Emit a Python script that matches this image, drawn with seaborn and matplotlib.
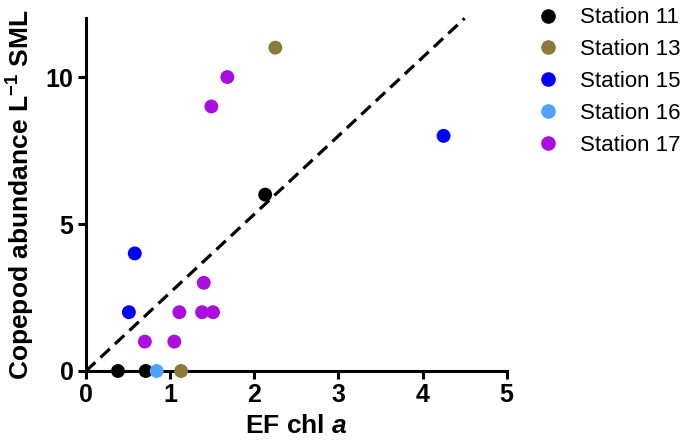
import numpy as np
import pandas as pd
import matplotlib
matplotlib.use("Agg")
import matplotlib.pyplot as plt
import seaborn as sns

# Data
st11_x = [0.38, 0.71, 2.13]
st11_y = [0, 0, 6]
st13_x = [2.25, 1.13]
st13_y = [11, 0]
st15_x = [0.58, 0.51, 4.25]
st15_y = [4, 2, 8]
st16_x = [0.84]
st16_y = [0]
st17_x = [1.68, 1.49, 1.40, 1.38, 1.51, 1.11, 0.70, 1.05]
st17_y = [10, 9, 3, 2, 2, 2, 1, 1]

stations = ["Station 11", "Station 13", "Station 15", "Station 16", "Station 17"]
colors = ["#000000", "#8B7A3A", "#0000FF", "#4DA3FF", "#A90DE0"]

# dashed reference line
line_x = [0, 4.5]
line_y = [0, 12]

frames = []
for name, xs, ys in zip(stations,
                        [st11_x, st13_x, st15_x, st16_x, st17_x],
                        [st11_y, st13_y, st15_y, st16_y, st17_y]):
    frames.append(pd.DataFrame({"EF": xs, "abund": ys, "station": name}))
df = pd.concat(frames, ignore_index=True)

sns.set_style("ticks")
plt.rcParams["font.family"] = ["Liberation Sans", "DejaVu Sans"]
plt.rcParams["mathtext.fontset"] = "custom"
plt.rcParams["mathtext.rm"] = "Liberation Sans"
plt.rcParams["mathtext.bf"] = "Liberation Sans:bold"
plt.rcParams["mathtext.it"] = "Liberation Sans:italic"
plt.rcParams["mathtext.bfit"] = "Liberation Sans:italic:bold"
plt.rcParams["axes.edgecolor"] = "black"
plt.rcParams["xtick.color"] = "black"
plt.rcParams["ytick.color"] = "black"
plt.rcParams["text.color"] = "black"

fig = plt.figure(figsize=(6.85, 4.45), dpi=100)
ax = fig.add_axes([0.1255, 0.1663, 0.6142, 0.7926])

ax.plot(line_x, line_y, linestyle=(0, (4, 2.2)), color="black", lw=2.3,
        zorder=1, clip_on=False)
sns.scatterplot(data=df, x="EF", y="abund", hue="station", hue_order=stations,
                palette=colors, s=100, edgecolor="none", ax=ax, zorder=3,
                clip_on=False)

ax.set_xlim(0, 5)
ax.set_ylim(0, 12)
ax.set_xticks([0, 1, 2, 3, 4, 5])
ax.set_yticks([0, 5, 10])
for side in ["top", "right"]:
    ax.spines[side].set_visible(False)
for side in ["left", "bottom"]:
    ax.spines[side].set_linewidth(2.2)
ax.tick_params(axis="both", direction="out", length=6, width=2.2,
               labelsize=18, pad=3, labelcolor="black")
for lab in ax.get_xticklabels() + ax.get_yticklabels():
    lab.set_fontweight("bold")

ax.set_xlabel(r"EF chl $\mathbfit{a}$", fontsize=19, fontweight="bold",
              labelpad=5, color="black")
ax.set_ylabel(r"Copepod abundance L$^{\mathbf{-1}}$ SML", fontsize=19,
              fontweight="bold", labelpad=6, color="black")

leg = ax.legend(loc="upper left", bbox_to_anchor=(1.072, 1.031), frameon=False,
                fontsize=16, handletextpad=0.94, labelspacing=0.49,
                markerscale=1.05, handlelength=1.0, borderpad=0,
                borderaxespad=0)
for t in leg.get_texts():
    t.set_color("black")

fig.savefig("out.png", dpi=100)
